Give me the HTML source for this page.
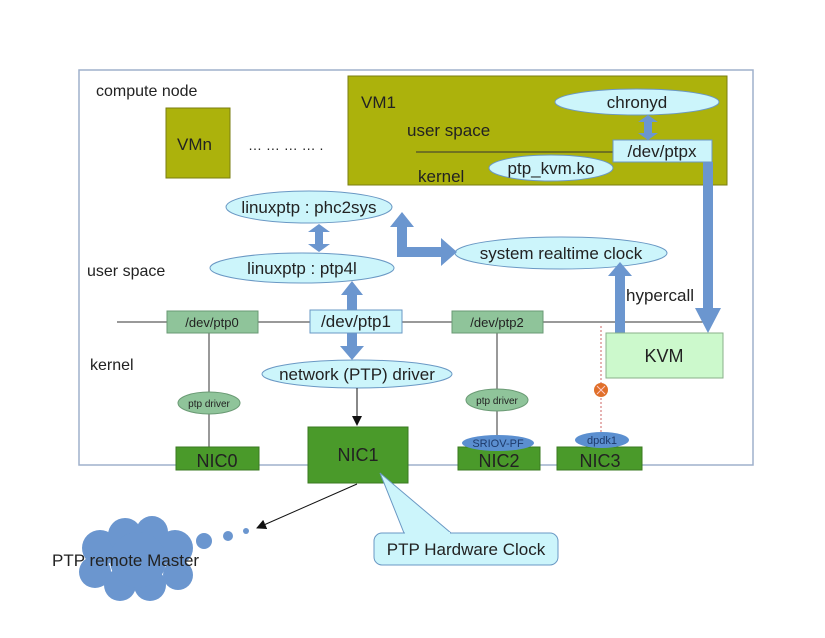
<!DOCTYPE html>
<html><head><style>body{margin:0;background:#fff}svg{display:block}text{font-family:"Liberation Sans",sans-serif;fill:#222}</style></head><body>
<svg width="825" height="638" viewBox="0 0 825 638" xmlns="http://www.w3.org/2000/svg">
<defs>
<marker id="ah" markerWidth="10" markerHeight="10" refX="9" refY="5" orient="auto" markerUnits="userSpaceOnUse"><path d="M0,0 L10,5 L0,10 z" fill="#111"/></marker>
</defs>
<rect x="79" y="70" width="674" height="395" fill="#fff" stroke="#9fb0cc" stroke-width="1.5"/>
<text x="96" y="96" font-size="16">compute node</text>
<rect x="166" y="108" width="64" height="70" fill="#acb20c" stroke="#7a7e10"/>
<text x="177" y="150" font-size="17">VMn</text>
<text x="248" y="150" font-size="14">… … … … .</text>
<rect x="348" y="76" width="379" height="109" fill="#acb20c" stroke="#7a7e10"/>
<text x="361" y="108" font-size="17">VM1</text>
<text x="407" y="136" font-size="17">user space</text>
<text x="418" y="182" font-size="17">kernel</text>
<line x1="416" y1="152" x2="613" y2="152" stroke="#333"/>
<ellipse cx="637" cy="102" rx="82" ry="13" fill="#ccf5fb" stroke="#6a98c4"/>
<text x="637" y="108" font-size="17" text-anchor="middle">chronyd</text>
<ellipse cx="551" cy="168" rx="62" ry="13" fill="#ccf5fb" stroke="#6a98c4"/>
<text x="551" y="174" font-size="17" text-anchor="middle">ptp_kvm.ko</text>
<rect x="613" y="140" width="99" height="22" fill="#ccf5fb" stroke="#6a98c4"/>
<text x="662" y="157" font-size="17" text-anchor="middle">/dev/ptpx</text>
<path d="M648,115 l-10,7 h6 v11 h-6 l10,7 l10,-7 h-6 v-11 h6 z" fill="#6b96cf"/>

<text x="87" y="276" font-size="16">user space</text>
<text x="90" y="370" font-size="16">kernel</text>
<line x1="117" y1="322" x2="712" y2="322" stroke="#333"/>
<line x1="209" y1="333" x2="209" y2="447" stroke="#333"/>
<line x1="497" y1="333" x2="497" y2="447" stroke="#333"/>
<line x1="601" y1="326" x2="601" y2="433" stroke="#c66" stroke-dasharray="2,2"/>

<ellipse cx="309" cy="207" rx="83" ry="16" fill="#ccf5fb" stroke="#6a98c4"/>
<text x="309" y="213" font-size="17" text-anchor="middle">linuxptp : phc2sys</text>
<ellipse cx="302" cy="268" rx="92" ry="15" fill="#ccf5fb" stroke="#6a98c4"/>
<text x="302" y="274" font-size="17" text-anchor="middle">linuxptp : ptp4l</text>
<ellipse cx="561" cy="253" rx="106" ry="16" fill="#ccf5fb" stroke="#6a98c4"/>
<text x="561" y="259" font-size="17" text-anchor="middle">system realtime clock</text>
<ellipse cx="357" cy="374" rx="95" ry="14" fill="#ccf5fb" stroke="#6a98c4"/>
<text x="357" y="380" font-size="17" text-anchor="middle">network (PTP) driver</text>

<path d="M319,224 l-11,8 h7 v12 h-7 l11,8 l11,-8 h-7 v-12 h7 z" fill="#6b96cf"/>
<path d="M352,281 l-11,14 h6 v15 h10 v-15 h6 z" fill="#6b96cf"/>
<path d="M347,333 v13 h-7 l12,14 l12,-14 h-7 v-13 z" fill="#6b96cf"/>
<path d="M402,212 l-12,15 h7 v30 h44 v9 l16,-14 l-16,-14 v9 h-34 v-20 h7 z" fill="#6b96cf"/>
<path d="M703,162 h10 v146 h8 l-13,25 l-13,-25 h8 z" fill="#6b96cf"/>
<path d="M615,333 v-57 h-7 l12,-14 l12,14 h-7 v57 z" fill="#6b96cf"/>
<text x="626" y="301" font-size="17">hypercall</text>

<rect x="167" y="311" width="91" height="22" fill="#8fc49a" stroke="#6a9a74"/>
<text x="212" y="327" font-size="13" text-anchor="middle">/dev/ptp0</text>
<rect x="310" y="310" width="92" height="23" fill="#ccf5fb" stroke="#6a98c4"/>
<text x="356" y="327" font-size="17" text-anchor="middle">/dev/ptp1</text>
<rect x="452" y="311" width="91" height="22" fill="#8fc49a" stroke="#6a9a74"/>
<text x="497" y="327" font-size="13" text-anchor="middle">/dev/ptp2</text>
<rect x="606" y="333" width="117" height="45" fill="#ccf9cc" stroke="#8ab08a"/>
<text x="664" y="362" font-size="18" text-anchor="middle">KVM</text>

<ellipse cx="209" cy="403" rx="31" ry="11" fill="#8fc49a" stroke="#6a9a74"/>
<text x="209" y="407" font-size="10" text-anchor="middle">ptp driver</text>
<ellipse cx="497" cy="400" rx="31" ry="11" fill="#8fc49a" stroke="#6a9a74"/>
<text x="497" y="404" font-size="10" text-anchor="middle">ptp driver</text>
<circle cx="601" cy="390" r="7" fill="#e0702a"/>
<path d="M597,386 l8,8 M605,386 l-8,8" stroke="#fcc" stroke-width="1"/>

<line x1="357" y1="388" x2="357" y2="425" stroke="#111" marker-end="url(#ah)"/>
<rect x="176" y="447" width="83" height="23" fill="#4a9a2a" stroke="#3a7a20"/>
<text x="217" y="467" font-size="18" text-anchor="middle">NIC0</text>
<rect x="308" y="427" width="100" height="56" fill="#4a9a2a" stroke="#3a7a20"/>
<text x="358" y="461" font-size="18" text-anchor="middle">NIC1</text>
<rect x="458" y="447" width="82" height="23" fill="#4a9a2a" stroke="#3a7a20"/>
<text x="499" y="467" font-size="18" text-anchor="middle">NIC2</text>
<rect x="557" y="447" width="85" height="23" fill="#4a9a2a" stroke="#3a7a20"/>
<text x="600" y="467" font-size="18" text-anchor="middle">NIC3</text>
<ellipse cx="498" cy="443" rx="36" ry="8" fill="#5b8fd0"/>
<text x="498" y="447" font-size="11" text-anchor="middle" style="fill:#1e3a6a">SRIOV-PF</text>
<ellipse cx="602" cy="440" rx="27" ry="8" fill="#5b8fd0"/>
<text x="602" y="444" font-size="11" text-anchor="middle" style="fill:#1e3a6a">dpdk1</text>

<line x1="357" y1="484" x2="257" y2="528" stroke="#111" marker-end="url(#ah)"/>
<g fill="#6b96cf">
<circle cx="100" cy="548" r="18"/><circle cx="125" cy="535" r="17"/><circle cx="152" cy="532" r="16"/><circle cx="175" cy="548" r="18"/>
<circle cx="95" cy="572" r="16"/><circle cx="120" cy="585" r="16"/><circle cx="150" cy="585" r="16"/><circle cx="178" cy="575" r="15"/>
<circle cx="138" cy="560" r="28"/>
<circle cx="204" cy="541" r="8"/><circle cx="228" cy="536" r="5"/><circle cx="246" cy="531" r="3"/>
</g>
<text x="52" y="566" font-size="17">PTP remote Master</text>

<path d="M380,473 L404,533 H451 Z" fill="#ccf5fb" stroke="#6a98c4"/>
<rect x="374" y="533" width="184" height="32" rx="8" fill="#ccf5fb" stroke="#6a98c4"/>
<rect x="405" y="532" width="45" height="3" fill="#ccf5fb"/>
<text x="466" y="555" font-size="17" text-anchor="middle">PTP Hardware Clock</text>
</svg>
</body></html>
